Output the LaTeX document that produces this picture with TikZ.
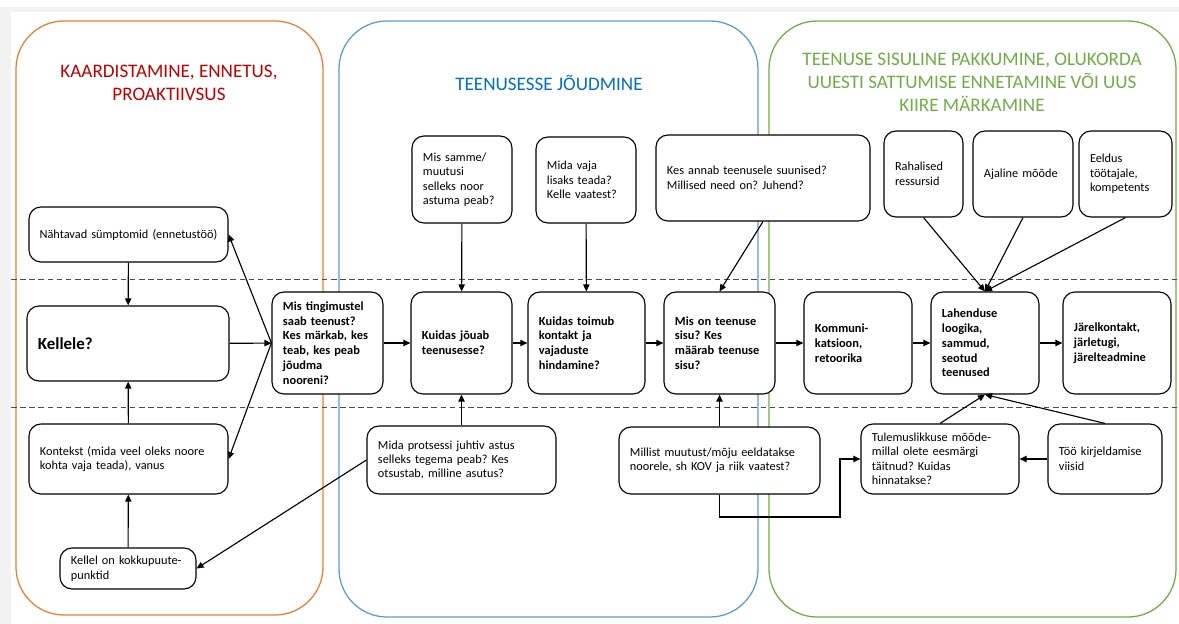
\documentclass[tikz,border=0pt]{standalone}
\usepackage{fontspec}
\setmainfont{Carlito}
\usetikzlibrary{arrows.meta}
\definecolor{orangeline}{HTML}{ED7D31}
\definecolor{blueline}{HTML}{5B9BD5}
\definecolor{greenline}{HTML}{70AD47}
\definecolor{redtitle}{HTML}{C00000}
\definecolor{bluetitle}{HTML}{0070C0}
\definecolor{greentitle}{HTML}{70AD47}
\frenchspacing

\begin{document}
\begin{tikzpicture}[x=0.025cm, y=-0.025cm,
    box/.style={draw, fill=white, rounded corners=0.3cm, line width=0.8pt, align=left,
      inner xsep=0.275cm, inner ysep=0pt, font=\fontsize{8.75}{10.3}\selectfont},
    bbox/.style={box, font=\fontsize{8.8}{10.5}\selectfont\bfseries},
    lane/.style={line width=0.9pt, rounded corners=1.2cm},
    heading/.style={align=center, font=\fontsize{13.6}{16.3}\selectfont},
    arr/.style={-{Triangle[length=5pt,width=4.5pt]}, line width=0.8pt},
    divider/.style={dash pattern=on 4pt off 2.5pt, line width=0.7pt, black!70}]
    \useasboundingbox (0,0) rectangle (1179,624);
    \fill[black!5] (0,7) rectangle (1179,12);
    \fill[black!5] (0,7) rectangle (11,624);

    % Lanes
    \draw[lane, orangeline] (16,21) rectangle (323,615);
    \draw[lane, blueline] (339,21) rectangle (758,617);
    \draw[lane, greenline] (769,21) rectangle (1176,617);
    \node[heading, text=redtitle] (t1) at (169,83) {KAARDISTAMINE, ENNETUS,\\PROAKTIIVSUS};
    \node[heading, text=bluetitle] (t2) at (549,83) {TEENUSESSE JÕUDMINE};
    \node[heading, text=greentitle] (t3) at (972,82) {TEENUSE SISULINE PAKKUMINE, OLUKORDA\\UUESTI SATTUMISE ENNETAMINE VÕI UUS\\KIIRE MÄRKAMINE};

    % Dividers
    \draw[divider] (11,279) -- (1179,279);
    \draw[divider] (11,407) -- (1179,407);

    % Left lane
    \node[box, align=center, inner xsep=0.1cm, text width=4.775cm, minimum height=1.375cm] (nahtavad) at (128.5,234.5) {Nähtavad sümptomid (ennetustöö)};
    \node[box, text width=4.5cm, minimum height=1.875cm, font=\fontsize{12}{14}\selectfont\bfseries] (kellele) at (128,343.5) {Kellele?};
    \node[box, text width=4.425cm, minimum height=1.75cm] (kontekst) at (128.5,459) {Kontekst (mida veel oleks noore\\kohta vaja teada), vanus};
    \node[box, text width=2.85cm, minimum height=1.025cm] (kellel) at (128,568.5) {Kellel on kokkupuute-\\punktid};

    % Middle lane
    \node[bbox, text width=2.225cm, minimum height=2.55cm] (ting) at (327.5,343) {Mis tingimustel\\saab teenust?\\Kes märkab, kes\\teab, kes peab\\jõudma\\nooreni?};
    \node[box, text width=1.95cm, minimum height=2.175cm] (samme) at (462,179.5) {Mis samme/\\muutusi\\selleks noor\\astuma peab?};
    \node[box, text width=1.95cm, minimum height=2.15cm] (vaja) at (586,180) {Mida vaja\\lisaks teada?\\Kelle vaatest?};
    \node[box, text width=4.8cm, minimum height=2.15cm] (suunised) at (763,178) {Kes annab teenusele suunised?\\Millised need on? Juhend?};
    \node[bbox, text width=1.975cm, minimum height=2.55cm] (jouab) at (461.5,343) {Kuidas jõuab\\teenusesse?};
    \node[bbox, text width=2.375cm, minimum height=2.55cm] (toimub) at (586.5,343) {Kuidas toimub\\kontakt ja\\vajaduste\\hindamine?};
    \node[bbox, text width=2.225cm, minimum height=2.55cm] (sisu) at (719.5,343) {Mis on teenuse\\sisu? Kes\\määrab teenuse\\sisu?};
    \node[box, text width=4.175cm, minimum height=1.7cm] (protsess) at (461.5,460) {Mida protsessi juhtiv astus\\selleks tegema peab? Kes\\otsustab, milline asutus?};
    \node[box, text width=4.475cm, minimum height=1.675cm] (muutus) at (719.5,460.5) {Millist muutust/mõju eeldatakse\\noorele, sh KOV ja riik vaatest?};

    % Right lane
    \node[box, text width=1.425cm, minimum height=2.15cm] (raha) at (923.5,174) {Rahalised\\ressursid};
    \node[box, text width=1.95cm, minimum height=2.15cm] (aeg) at (1023,174) {Ajaline mõõde};
    \node[box, text width=1.775cm, minimum height=2.15cm] (eeldus) at (1125.5,174) {Eeldus\\töötajale,\\kompetents\\[0.35cm]};
    \node[bbox, text width=2.15cm, minimum height=2.55cm] (kommun) at (858,343) {Kommuni-\\katsioon,\\retoorika};
    \node[bbox, text width=2.15cm, minimum height=2.55cm] (loogika) at (985,343) {Lahenduse\\loogika,\\sammud,\\seotud\\teenused};
    \node[bbox, text width=2.15cm, minimum height=2.55cm] (jarel) at (1117,343) {Järelkontakt,\\järletugi,\\järelteadmine};
    \node[box, text width=3.4cm, minimum height=1.75cm] (tulem) at (940,459) {Tulemuslikkuse mõõde-\\millal olete eesmärgi\\täitnud? Kuidas\\hinnatakse?};
    \node[box, text width=2.3cm, minimum height=1.75cm] (kirjeldus) at (1105,459) {Töö kirjeldamise\\viisid};
    \coordinate (bend) at (840,517);

    % Connectors
    \draw[arr] (nahtavad) -- (kellele);
    \draw[arr] (kontekst) -- (kellele);
    \draw[arr] (kellel) -- (kontekst);
    \draw[arr] (kellele) -- (ting);
    \draw[arr] (ting.west) -- (nahtavad.east);
    \draw[arr] (ting.west) -- (kontekst.east);
    \draw[arr] (protsess.west) -- (kellel.east);
    \draw[arr] (ting) -- (jouab);
    \draw[arr] (samme) -- (jouab);
    \draw[arr] (protsess) -- (jouab);
    \draw[arr] (jouab) -- (toimub);
    \draw[arr] (vaja) -- (toimub);
    \draw[arr] (toimub) -- (sisu);
    \draw[arr] (suunised.south) -- (sisu.north);
    \draw[arr] (muutus) -- (sisu);
    \draw[arr] (sisu) -- (kommun);
    \draw[arr] (kommun) -- (loogika);
    \draw[arr] (loogika) -- (jarel);
    \draw[arr] (raha.south) -- (loogika.north);
    \draw[arr] (aeg.south) -- (loogika.north);
    \draw[arr] (eeldus.south) -- (loogika.north);
    \draw[arr] (tulem.north) -- (loogika.south);
    \draw[arr] (kirjeldus.north) -- (loogika.south);
    \draw[arr] (kirjeldus) -- (tulem);
    \draw[arr] (muutus.south) |- (bend) |- (tulem.west);
\end{tikzpicture}
\end{document}
